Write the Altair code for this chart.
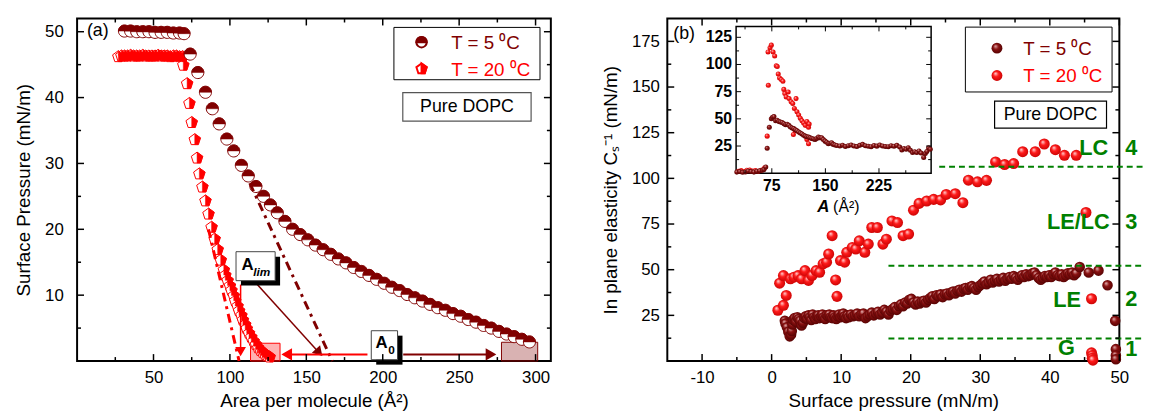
import altair as alt
import pandas as pd

FONT = "Liberation Sans"
MAROON = "#800000"
RED = "#ff0000"
GREEN = "#008000"

# ---------------- panel (a): surface pressure isotherms ----------------
iso5_area = [31, 35, 39, 43, 47, 51, 55, 59, 63, 67, 70,
             74, 79, 84, 88.5, 93, 98, 102.5, 107.5, 112, 117, 122, 126.5, 131, 136, 141,
             146, 151, 156, 161, 166, 171, 176, 181, 186, 191, 196, 201, 206, 211, 216,
             221, 226, 231, 236, 241, 246, 251, 256, 261, 266, 271, 276, 281, 286, 291, 296]
iso5_pi = [50.1, 50.1, 50.0, 50.0, 50.0, 49.9, 49.9, 49.9, 49.8, 49.8, 49.7,
           46.6, 43.8, 40.8, 38.3, 36.0, 33.7, 31.9, 29.7, 28.1, 26.5, 25.0, 23.7, 22.5, 21.2, 20.0,
           19.2, 18.4, 17.6, 16.9, 16.2, 15.5, 14.9, 14.2, 13.6, 13.0, 12.4, 11.8, 11.2, 10.7, 10.1,
           9.6, 9.1, 8.6, 8.1, 7.7, 7.2, 6.8, 6.3, 5.9, 5.4, 5.0, 4.5, 4.1, 3.7, 3.3, 2.9]

iso20_area = [27, 29, 31, 33, 35, 37, 39, 41, 43, 45, 47, 49, 51, 53, 55, 57, 59, 61, 63, 65, 67, 69,
              69.5, 72, 73.5, 75, 77, 78.5, 80, 82, 84, 86, 88, 90, 92, 94, 96,
              97, 98.5, 100, 101, 102.5, 103.5, 105, 106, 107.5, 108.5, 110, 111, 112.5, 114, 115.5,
              117, 118.5, 120, 121.5, 123, 124.5, 126]
iso20_pi = [46.2, 46.3, 46.3, 46.3, 46.4, 46.3, 46.3, 46.3, 46.4, 46.3, 46.3, 46.3, 46.3, 46.4, 46.3,
            46.3, 46.3, 46.2, 46.3, 46.3, 46.2, 46.2,
            44.9, 42.1, 39.1, 36.2, 33.6, 30.8, 28.4, 26.4, 24.3, 22.3, 20.3, 18.5, 16.9, 15.3, 13.8,
            13.0, 12.2, 11.4, 10.7, 9.9, 9.1, 8.3, 7.6, 6.9, 6.2, 5.5, 4.9, 4.2, 3.6, 3.0,
            2.5, 2.0, 1.6, 1.3, 1.0, 0.8, 0.6]

# tangent (limiting-area) extrapolations
tan20_area = [86, 106]
tan20_pi = [20, 0]
tan5_area = [113, 167]
tan5_pi = [27, 0]

# ---------------- panel (b): in-plane elasticity ----------------
el5_pi = [1.9, 2.0, 2.2, 2.4, 2.6, 2.8, 2.9, 3.0, 3.1,
          3.3, 3.5, 3.7, 3.9, 4.1, 4.3, 4.5, 4.7, 4.9,
          5.1, 5.3, 5.5, 5.7, 5.9, 6.1, 6.3, 6.5, 6.7,
          6.9, 7.1, 7.3, 7.5, 7.7, 7.9, 8.1, 8.3, 8.5,
          8.7, 8.9, 9.1, 9.3, 9.5, 9.7, 9.9, 10.1, 10.3,
          10.5, 10.7, 10.9, 11.1,
          11.4, 11.7, 12.0, 12.3, 12.6, 12.9, 13.2, 13.5, 13.8, 14.1,
          14.4, 14.7, 15.0, 15.3, 15.6, 15.9, 16.2, 16.5, 16.8, 17.1,
          17.4, 17.7, 18.0, 18.3, 18.6, 18.9, 19.2, 19.5, 19.8, 20.1,
          20.4, 20.7, 21.0, 21.3, 21.6, 21.9, 22.2, 22.5, 22.8, 23.1,
          23.4, 23.7, 24.0, 24.3, 24.6, 24.9, 25.2, 25.5, 25.8, 26.1,
          26.4, 26.7, 27.0, 27.3, 27.6, 27.9, 28.2, 28.5, 28.8, 29.1,
          29.4, 29.7, 30.0, 30.3, 30.6, 30.9, 31.2, 31.5, 31.8, 32.1,
          32.4, 32.7, 33.0, 33.3, 33.6, 33.9, 34.2, 34.5, 34.8, 35.1,
          35.4, 35.7, 36.0, 36.3, 36.6, 36.9, 37.2, 37.5, 37.8, 38.1,
          38.4, 38.7, 39.0, 39.3, 39.6, 39.9, 40.2, 40.5, 40.8, 41.1,
          41.4, 41.7, 42.0, 42.3, 42.6, 42.9, 43.2, 43.5, 43.8,
          44.3, 45.6, 47.0, 48.3, 49.4, 49.5, 49.5, 49.5]
el5_cs = [22.0, 20.5, 18.5, 16.0, 13.5, 14.5, 16.5, 20.0, 22.5,
          23.5, 21.5, 24.0, 23.0, 22.0, 19.5, 21.0, 23.5, 24.5,
          23.0, 25.0, 24.0, 22.5, 25.5, 24.0, 23.0, 24.5, 25.0,
          23.5, 24.5, 25.5, 24.0, 23.0, 25.0, 24.5, 25.5, 24.0,
          23.5, 25.0, 24.0, 23.0, 24.5, 25.5, 24.0, 25.0, 26.0,
          24.5, 23.5, 25.0, 24.0,
          25.5, 24.5, 25.0, 26.0, 24.5, 25.5, 26.0, 23.5, 24.5, 25.5,
          26.5, 25.0, 26.0, 27.0, 25.5, 26.5, 28.0, 27.0, 25.5, 27.5,
          28.5, 29.5, 28.0, 30.0, 31.0, 30.0, 32.0, 31.5, 33.5, 34.0,
          32.0, 31.0, 32.5, 31.5, 32.5, 33.0, 32.0, 33.5, 34.5, 35.5,
          34.0, 36.0, 35.5, 36.5, 35.0, 36.5, 37.0, 36.0, 37.5, 38.0,
          37.0, 38.5, 39.0, 38.0, 39.5, 40.0, 39.0, 40.5, 41.0, 40.0,
          39.0, 40.5, 41.5, 42.5, 43.5, 42.0, 43.0, 44.5, 43.0, 44.0,
          45.0, 43.5, 44.5, 45.5, 44.0, 45.0, 46.0, 45.0, 46.5, 45.5,
          44.5, 46.0, 47.0, 46.0, 47.5, 46.5, 47.0, 48.0, 48.5, 47.0,
          45.5, 44.5, 45.5, 46.5, 46.0, 47.0, 46.0, 47.5, 48.5, 47.0,
          46.5, 47.5, 46.0, 47.0, 48.0, 47.5, 48.5, 47.0, 48.0,
          51.5, 48.5, 49.5, 41.5, 22.0, 6.5, 3.0, 1.0]

el20_pi = [0.9, 1.15, 1.7, 1.7, 2.1, 2.7, 3.2, 3.8, 4.3, 4.8, 5.3, 5.8, 6.4, 6.9, 7.4, 7.9,
           8.2, 8.7, 9.2, 9.4, 9.9, 10.5, 10.8, 11.6, 12.1, 12.6, 13.4, 13.9, 14.4, 15.2, 16.0,
           16.5, 17.3, 18.1, 18.9, 19.7, 20.4, 21.2, 22.3, 23.3, 24.3, 25.1, 26.4, 27.5, 28.3,
           29.6, 30.9, 32.2, 33.5, 34.8, 36.1, 37.9, 39.2, 40.8, 42.1, 43.8, 45.2, 46.0,
           46.0, 46.1, 46.1, 46.2]
el20_cs = [27.8, 42.6, 30.5, 46.8, 35.9, 45.0, 45.9, 46.8, 45.0, 49.5, 44.1, 46.8, 49.5, 48.6, 53.2, 54.1,
           58.6, 68.6, 44.4, 35.4, 55.0, 54.1, 59.5, 62.2, 61.3, 65.8, 59.5, 64.0, 73.1, 73.1, 64.0,
           66.7, 76.7, 75.8, 68.6, 69.5, 82.6, 86.3, 87.6, 88.5, 88.2, 91.2, 91.6, 86.7, 99.0,
           98.1, 98.9, 109.0, 107.6, 108.1, 114.6, 114.6, 118.8, 115.7, 112.6, 112.6, 81.3, 34.1,
           4.5, 3.0, 1.5, 0.5]

# inset: elasticity vs area
in5_area = [26, 30, 34, 38, 42, 46, 50, 54, 58, 61.9, 64, 66.5,
            68.5, 71.5, 74.3, 76, 78, 80.3, 82.5, 84.9, 87, 89.5,
            92, 94.2, 96.5, 98.8, 101, 103.4, 105.7, 108, 110.3, 112.6,
            114.9, 117.2, 119.5, 121.8, 124.1, 126.4, 128.7, 131, 133.3, 135.6,
            137.9, 140.2, 142.5, 144.8, 147.1, 149.5, 151.8, 154.1, 156.4, 158.7,
            161, 163.3, 166, 170.2, 174, 178, 182, 186, 190, 194,
            198, 202, 206, 210, 214, 218, 222, 226, 230, 234,
            238, 242, 246, 250, 254, 257, 260, 263, 266, 269,
            272, 275, 278, 281, 284, 287.6, 289.9, 292, 294.5, 296.8]
in5_cs = [1.0, 1.5, 0.8, 1.2, 2.0, 1.5, 1.0, 1.8, 2.2, 2.7, 3.5, 5.7,
          22.9, 42.2, 50.0, 51.5, 52.1, 48.2, 48.8, 47.6, 47.0, 46.7,
          45.5, 44.6, 45.0, 44.0, 42.5, 41.6, 41.0, 40.0, 39.0, 37.9,
          37.0, 36.1, 35.0, 34.1, 33.5, 33.2, 32.5, 32.0, 31.5, 31.1,
          32.0, 33.2, 32.5, 32.6, 31.0, 29.5, 28.5, 27.1, 27.5, 28.0,
          26.5, 25.9, 25.5, 25.0, 25.8, 24.6, 25.3, 25.9, 25.0, 24.5,
          25.6, 26.5, 25.2, 24.8, 24.4, 25.5, 24.9, 25.9, 25.1, 24.6,
          24.4, 25.3, 24.8, 25.6, 24.0, 21.4, 22.8, 22.0, 23.5, 21.0,
          19.0, 19.8, 19.0, 20.5, 18.5, 14.5, 18.1, 20.0, 23.5, 22.0]
in20_area = [28, 32, 36, 40, 44, 48, 52, 56, 60, 63, 65,
             68.5, 70.1, 69.7, 72.5, 74.3, 76.8, 79.0, 81.2, 82.6, 84.0,
             85.9, 88.2, 90.5, 91.8, 93.2, 95.1, 97.9, 99.2, 102.0, 104.3,
             105.2, 106.6, 107.5, 108.9, 110.2, 112.6, 114.9, 117.2, 119.5, 121.8,
             124.1, 124.1, 126.4, 126.4, 127.3]
in20_cs = [1.8, 2.5, 1.5, 2.8, 3.0, 2.0, 2.4, 1.8, 2.6, 3.5, 5.0,
           34.1, 80.8, 111.5, 115.4, 117.8, 111.5, 107.9, 98.8, 98.2, 91.2,
           87.6, 86.1, 84.6, 77.1, 73.2, 70.2, 74.7, 68.6, 65.7, 64.2,
           35.6, 59.6, 39.2, 68.6, 56.6, 53.6, 50.6, 48.2, 46.1, 44.0,
           47.6, 31.1, 42.2, 27.1, 45.2]

# phase boundaries / labels
phase_cs = [106.3, 52.2, 12.3]
phase_from = [24.1, 16.8, 16.8]
phase_to = [53.5, 53.5, 53.5]
phase_names = ["LC", "LE/LC", "LE", "G"]
phase_name_pi = [48.4, 48.6, 44.5, 43.6]
phase_name_cs = [116.8, 76.1, 33.5, 7.3]
phase_nums = ["4", "3", "2", "1"]
phase_num_cs = [116.8, 76.1, 34.1, 6.4]

# ticks
a_xmaj = [50, 100, 150, 200, 250, 300]
a_xmin = [25, 75, 125, 175, 225, 275]
a_ymaj = [10, 20, 30, 40, 50]
a_ymin = [5, 15, 25, 35, 45]
b_xmaj = [-10, 0, 10, 20, 30, 40, 50]
b_xmin = [-5, 5, 15, 25, 35, 45]
b_ymaj = [25, 50, 75, 100, 125, 150, 175]
b_ymin = [12.5, 37.5, 62.5, 87.5, 112.5, 137.5, 162.5]
in_xmaj = [75, 150, 225]
in_xmin = [37.5, 112.5, 187.5, 262.5]
in_ymaj = [25, 50, 75, 100, 125]
in_ymin = [12.5, 37.5, 62.5, 87.5, 112.5]

# ---------------- helpers ----------------
ONE = pd.DataFrame({"k": [0]})
WA, HA = 480, 347
WB, HB = 458, 347
IN_L, IN_R, IN_T, IN_B = 69.7, 267.3, 8, 156.7

xa = alt.Scale(domain=[0, 310], nice=False, zero=False)
ya = alt.Scale(domain=[0, 52], nice=False, zero=False)
xb = alt.Scale(domain=[-15, 50], nice=False, zero=False)
yb = alt.Scale(domain=[0, 187.5], nice=False, zero=False)
xi = alt.Scale(domain=[25, 298], nice=False, zero=False, range=[IN_L, IN_R])
yi = alt.Scale(domain=[0, 135], nice=False, zero=False, range=[IN_B, IN_T])

axA_x = alt.Axis(title="Area per molecule (Å²)", values=a_xmaj)
axA_y = alt.Axis(title="Surface Pressure (mN/m)", values=a_ymaj, labelPadding=14, titlePadding=11)
axB_x = alt.Axis(title="Surface pressure (mN/m)", values=b_xmaj, labelExpr="'' + datum.value")
axB_y = alt.Axis(title="In plane elasticity Cₛ⁻¹ (mN/m)", values=b_ymaj, labelPadding=8, titlePadding=11)
AXES = {id(xa): axA_x, id(ya): axA_y, id(xb): axB_x, id(yb): axB_y}


def AX(scale):
    return AXES.get(id(scale), None)


CIRC = "M-1,0A1,1,0,1,0,1,0A1,1,0,1,0,-1,0Z"
TOPHALF = "M-1,0A1,1,0,0,1,1,0Z"
PENT = "M0,-1L0.951,-0.309L0.588,0.809L-0.588,0.809L-0.951,-0.309Z"
PENT_R = "M0,-1L0.951,-0.309L0.588,0.809L0,0.809Z"


def sphere(light, base, dark):
    return alt.RadialGradient(
        gradient="radial", x1=0.35, y1=0.3, r1=0, x2=0.5, y2=0.5, r2=0.6,
        stops=[alt.GradientStop(offset=0, color=light),
               alt.GradientStop(offset=0.4, color=base),
               alt.GradientStop(offset=1, color=dark)])


RED_SPH = sphere("#ffe0e0", "#ff1a1a", "#c00000")
MAR_SPH = sphere("#e8b8b8", "#8a1010", "#4a0000")


def X(field, xs):
    return alt.X(field, scale=xs, axis=AX(xs))


def Y(field, ys):
    return alt.Y(field, scale=ys, axis=AX(ys))


def txt(text, x, y, size=18, color="black", align="left", weight="normal",
        style="normal", baseline="middle", angle=0):
    return alt.Chart(ONE).mark_text(
        text=text, font=FONT, fontSize=size, color=color, align=align,
        fontWeight=weight, fontStyle=style, baseline=baseline, angle=angle
    ).encode(x=alt.value(x), y=alt.value(y))


def box(x0, x1, y0, y1, stroke="black", sw=1, fill="white"):
    return alt.Chart(ONE).mark_rect(fill=fill, stroke=stroke, strokeWidth=sw).encode(
        x=alt.value(x0), x2=alt.value(x1), y=alt.value(y0), y2=alt.value(y1))


def dtxt(text, x, y, xs, ys, **kw):
    d = pd.DataFrame({"x": [x], "y": [y]})
    return alt.Chart(d).mark_text(text=text, font=FONT, baseline="middle", **kw).encode(
        x=X("x:Q", xs), y=Y("y:Q", ys))


def drect(x0, x1, y0, y1, xs, ys, **kw):
    d = pd.DataFrame({"x": [x0], "x2": [x1], "y": [y0], "y2": [y1]})
    return alt.Chart(d).mark_rect(**kw).encode(
        x=X("x:Q", xs), x2="x2:Q", y=Y("y:Q", ys), y2="y2:Q")


def dseg(x0, y0, x1, y1, xs, ys, **kw):
    d = pd.DataFrame({"x": [x0], "x2": [x1], "y": [y0], "y2": [y1]})
    return alt.Chart(d).mark_rule(**kw).encode(
        x=X("x:Q", xs), x2="x2:Q", y=Y("y:Q", ys), y2="y2:Q")


def dhead(x, y, xs, ys, shape, color, angle=0, size=70):
    d = pd.DataFrame({"x": [x], "y": [y]})
    return alt.Chart(d).mark_point(shape=shape, filled=True, fill=color, stroke=color,
                                   size=size, angle=angle, opacity=1).encode(
        x=X("x:Q", xs), y=Y("y:Q", ys))


def frame_ticks(xs, ys, xmaj, xmin, ymaj, ymin, left, right, top, bottom, big=7, small=4, sw=1.5):
    out = []
    for vals, ln in ((xmaj, big), (xmin, small)):
        d = pd.DataFrame({"v": vals})
        for y0, y1 in ((bottom, bottom - ln), (top, top + ln)):
            out.append(alt.Chart(d).mark_rule(color="black", strokeWidth=sw).encode(
                x=X("v:Q", xs), y=alt.value(y0), y2=alt.value(y1)))
    for vals, ln in ((ymaj, big), (ymin, small)):
        d = pd.DataFrame({"v": vals})
        for x0, x1 in ((left, left + ln), (right, right - ln)):
            out.append(alt.Chart(d).mark_rule(color="black", strokeWidth=sw).encode(
                y=Y("v:Q", ys), x=alt.value(x0), x2=alt.value(x1)))
    return out


# ---------------- panel (a) ----------------
df5 = pd.DataFrame({"area": iso5_area, "pi": iso5_pi})
df20 = pd.DataFrame({"area": iso20_area, "pi": iso20_pi})

a_layers = []
a_layers.append(drect(113.5, 132.8, 0, 2.7, xa, ya, fill=RED, fillOpacity=0.3, stroke=RED, strokeWidth=1))
a_layers.append(drect(277.7, 301.4, 0, 2.85, xa, ya, fill=MAROON, fillOpacity=0.3, stroke=MAROON, strokeWidth=1))

a_layers.append(alt.Chart(df20).mark_point(shape=PENT, filled=True, fill="white", stroke=RED,
                                           strokeWidth=1, size=150, opacity=1).encode(
    x=X("area:Q", xa), y=Y("pi:Q", ya)))
a_layers.append(alt.Chart(df20).mark_point(shape=PENT_R, filled=True, fill=RED, stroke=RED,
                                           strokeWidth=0.5, size=150, opacity=1).encode(
    x=X("area:Q", xa), y=Y("pi:Q", ya)))
a_layers.append(alt.Chart(df5).mark_point(shape=CIRC, filled=True, fill="white", stroke=MAROON,
                                          strokeWidth=1, size=150, opacity=1).encode(
    x=X("area:Q", xa), y=Y("pi:Q", ya)))
a_layers.append(alt.Chart(df5).mark_point(shape=TOPHALF, filled=True, fill=MAROON, stroke=MAROON,
                                          strokeWidth=0.5, size=150, opacity=1).encode(
    x=X("area:Q", xa), y=Y("pi:Q", ya)))

a_layers.append(alt.Chart(pd.DataFrame({"area": tan20_area, "pi": tan20_pi})).mark_line(
    color=RED, strokeWidth=3, strokeDash=[9, 5, 3, 5]).encode(x=X("area:Q", xa), y=Y("pi:Q", ya)))
a_layers.append(alt.Chart(pd.DataFrame({"area": tan5_area, "pi": tan5_pi})).mark_line(
    color=MAROON, strokeWidth=3, strokeDash=[9, 5, 3, 5]).encode(x=X("area:Q", xa), y=Y("pi:Q", ya)))

a_layers.append(dseg(107, 11.6, 107, 1.6, xa, ya, color=RED, strokeWidth=1.5))
a_layers.append(dhead(107, 1.5, xa, ya, "triangle-down", RED, size=55))
a_layers.append(dseg(115.7, 12.2, 158.5, 1.2, xa, ya, color=MAROON, strokeWidth=1.5))
a_layers.append(dhead(158.2, 1.35, xa, ya, "triangle-right", MAROON, angle=48, size=60))
a_layers.append(dseg(190, 1, 137, 1, xa, ya, color=RED, strokeWidth=2))
a_layers.append(dhead(137.5, 1, xa, ya, "triangle-left", RED, size=80))
a_layers.append(dseg(213.4, 1, 271, 1, xa, ya, color=MAROON, strokeWidth=2))
a_layers.append(dhead(270.5, 1, xa, ya, "triangle-right", MAROON, size=80))

for (x0, x1, y0, y1) in ((104, 129.6, 12.2, 16.6), (192.5, 209.7, 0.2, 4.6)):
    a_layers.append(drect(x0, x1, y0, y1, xa, ya, fill="black", xOffset=5, x2Offset=5,
                          yOffset=5, y2Offset=5))
    a_layers.append(drect(x0, x1, y0, y1, xa, ya, fill="white", stroke="#444", strokeWidth=1))
a_layers.append(dtxt("A", 111.6, 14.6, xa, ya, fontSize=17, fontWeight="bold", align="center"))
a_layers.append(dtxt("lim", 115.2, 13.5, xa, ya, fontSize=12, fontWeight="bold", fontStyle="italic", align="left"))
a_layers.append(dtxt("A", 199.2, 2.7, xa, ya, fontSize=17, fontWeight="bold", align="center"))
a_layers.append(dtxt("0", 203.6, 1.6, xa, ya, fontSize=12, fontWeight="bold", align="left"))

a_layers.append(box(321, 469, 9, 62))
a_layers.append(alt.Chart(ONE).mark_point(shape=CIRC, filled=True, fill="white", stroke=MAROON, size=110, opacity=1)
                .encode(x=alt.value(349), y=alt.value(24)))
a_layers.append(alt.Chart(ONE).mark_point(shape=TOPHALF, filled=True, fill=MAROON, stroke=MAROON, size=110, opacity=1)
                .encode(x=alt.value(349), y=alt.value(24)))
a_layers.append(alt.Chart(ONE).mark_point(shape=PENT, filled=True, fill="white", stroke=RED, size=120, opacity=1)
                .encode(x=alt.value(349), y=alt.value(51)))
a_layers.append(alt.Chart(ONE).mark_point(shape=PENT_R, filled=True, fill=RED, stroke=RED, size=120, opacity=1)
                .encode(x=alt.value(349), y=alt.value(51)))
a_layers.append(txt("T = 5 ⁰C", 379, 25, size=19, color=MAROON))
a_layers.append(txt("T = 20 ⁰C", 379, 52, size=19, color=RED))
a_layers.append(box(330, 460, 75, 104, stroke="#555", sw=1.2))
a_layers.append(txt("Pure DOPC", 395, 90, size=18, align="center"))
a_layers.append(txt("(a)", 10, 13, size=18))
a_layers += frame_ticks(xa, ya, a_xmaj, a_xmin, a_ymaj, a_ymin, 0, WA, 0, HA)

panelA = alt.layer(*a_layers).properties(width=WA, height=HA)

# ---------------- panel (b) ----------------
dfe5 = pd.DataFrame({"pi": el5_pi, "cs": el5_cs})
dfe20 = pd.DataFrame({"pi": el20_pi, "cs": el20_cs})

b_layers = []
b_layers.append(alt.Chart(dfe20).mark_circle(fill=RED_SPH, size=125, opacity=1).encode(
    x=X("pi:Q", xb), y=Y("cs:Q", yb)))
b_layers.append(alt.Chart(dfe5).mark_circle(fill=MAR_SPH, size=115, opacity=1).encode(
    x=X("pi:Q", xb), y=Y("cs:Q", yb)))

ph = pd.DataFrame({"x": phase_from, "x2": phase_to, "y": phase_cs})
b_layers.append(alt.Chart(ph).mark_rule(color=GREEN, strokeWidth=2, strokeDash=[6, 4]).encode(
    x=X("x:Q", xb), x2="x2:Q", y=Y("y:Q", yb)))
pn = pd.DataFrame({"t": phase_names, "x": phase_name_pi, "y": phase_name_cs})
b_layers.append(alt.Chart(pn).mark_text(font=FONT, fontSize=22, fontWeight="bold", color=GREEN,
                                        align="right", baseline="middle").encode(
    x=X("x:Q", xb), y=Y("y:Q", yb), text="t:N"))
pnum = pd.DataFrame({"t": phase_nums, "y": phase_num_cs})
b_layers.append(alt.Chart(pnum).mark_text(font=FONT, fontSize=22, fontWeight="bold", color=GREEN,
                                          align="center", baseline="middle").encode(
    x=alt.value(WB + 12), y=Y("y:Q", yb), text="t:N"))

b_layers.append(box(302, 450.6, 8.7, 74.4))
b_layers.append(alt.Chart(ONE).mark_circle(fill=MAR_SPH, size=121, opacity=1)
                .encode(x=alt.value(334), y=alt.value(30)))
b_layers.append(alt.Chart(ONE).mark_circle(fill=RED_SPH, size=121, opacity=1)
                .encode(x=alt.value(334), y=alt.value(57.7)))
b_layers.append(txt("T = 5 ⁰C", 360.6, 31, size=19, color=MAROON))
b_layers.append(txt("T = 20 ⁰C", 360.6, 58.7, size=19, color=RED))
b_layers.append(box(331.6, 445, 83.7, 111.1, sw=1.2))
b_layers.append(txt("Pure DOPC", 388.3, 98, size=18, align="center"))
b_layers.append(txt("(b)", 6, 16, size=18))
b_layers += frame_ticks(xb, yb, b_xmaj, b_xmin, b_ymaj, b_ymin, 0, WB, 0, HB)
mainB = alt.layer(*b_layers)

# inset (own scales, no axes: frame, ticks and labels drawn from the tick arrays)
i_layers = []
i_layers.append(drect(25, 298, 0, 135, xi, yi, fill="white", stroke="black", strokeWidth=1.5))
i_layers.append(alt.Chart(pd.DataFrame({"a": in20_area, "c": in20_cs})).mark_circle(
    fill=RED_SPH, size=26, opacity=1).encode(x=X("a:Q", xi), y=Y("c:Q", yi)))
i_layers.append(alt.Chart(pd.DataFrame({"a": in5_area, "c": in5_cs})).mark_circle(
    fill=MAR_SPH, size=26, opacity=1).encode(x=X("a:Q", xi), y=Y("c:Q", yi)))
i_layers += frame_ticks(xi, yi, in_xmaj, in_xmin, in_ymaj, in_ymin, IN_L, IN_R, IN_T, IN_B,
                        big=5, small=3, sw=1)
i_layers.append(alt.Chart(pd.DataFrame({"v": in_xmaj})).mark_text(
    font=FONT, fontSize=16, fontWeight="bold", baseline="top", align="center").encode(
    x=X("v:Q", xi), y=alt.value(IN_B + 5), text="v:Q"))
i_layers.append(alt.Chart(pd.DataFrame({"v": in_ymaj})).mark_text(
    font=FONT, fontSize=16, fontWeight="bold", baseline="middle", align="right").encode(
    y=Y("v:Q", yi), x=alt.value(IN_L - 4), text="v:Q"))
i_layers.append(txt("A", 158, 190.7, size=17, weight="bold", style="italic", align="center"))
i_layers.append(txt("(Å²)", 168, 190.7, size=16, align="left"))
insetB = alt.layer(*i_layers)

panelB = alt.layer(mainB, insetB).resolve_scale(x="independent", y="independent").properties(
    width=WB, height=HB)

chart = alt.hconcat(panelA, panelB, spacing=48).configure(
    padding={"left": 6, "top": 6, "right": 0, "bottom": 0}
).configure_view(stroke="black", strokeWidth=2).configure_axis(
    labelFont=FONT, titleFont=FONT, labelFontSize=17, titleFontSize=19,
    titleFontWeight="normal", labelColor="black", titleColor="black",
    domain=False, ticks=False, grid=False, labelFlush=False, labelOverlap=False
).configure_axisX(labelPadding=9, titlePadding=6).configure_axisY(labelPadding=10, titlePadding=10)

chart.save("out.html", embed_options={"renderer": "svg", "actions": False})
